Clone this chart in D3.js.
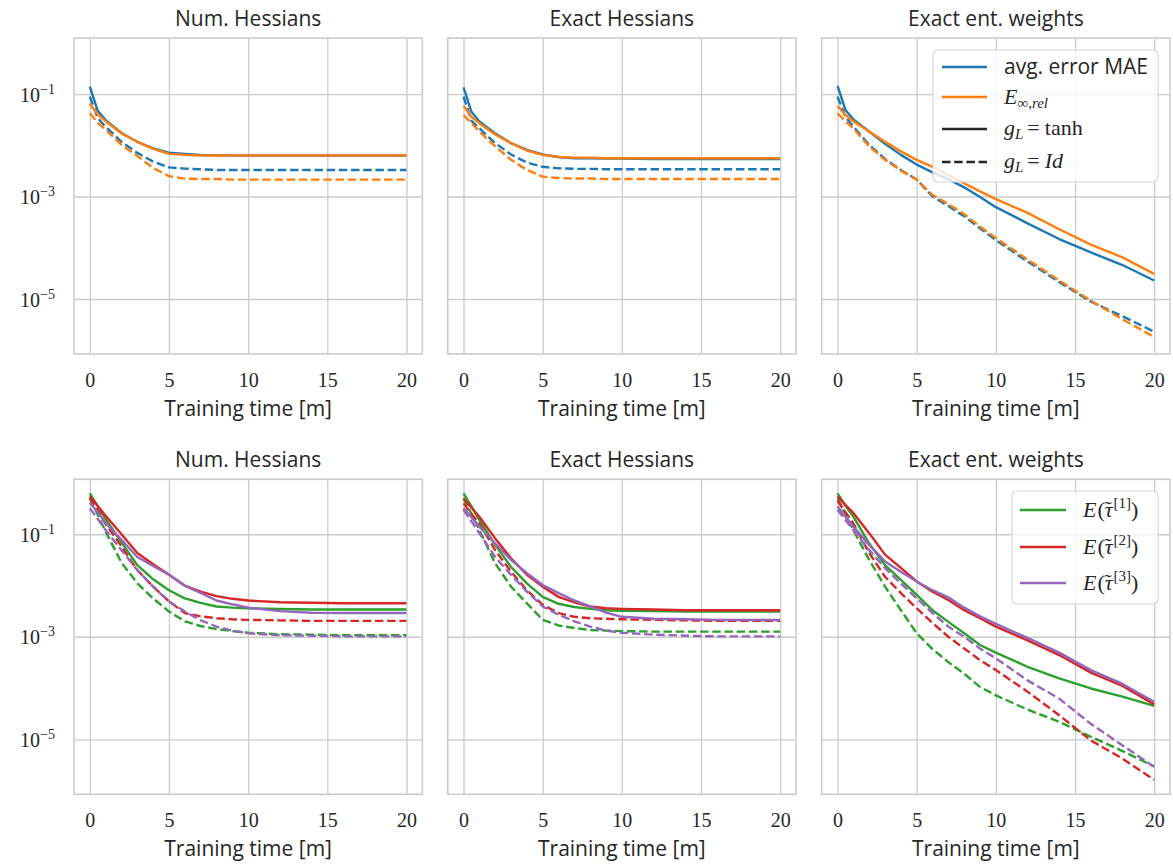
<html>
<meta charset="utf-8" />
<script src="https://d3js.org/d3.v7.min.js"></script>
<style>
  body { margin: 0; background: #fff; }
  text { fill: #262626; }
</style>
<body>
<svg width="1173" height="868" id="fig"></svg>
<script>
// sample times [m]
const times = [0, 0.5, 1, 2, 3, 4, 5, 6, 7, 8, 9, 10, 12, 14, 16, 18, 20];
const xTicks = [0, 5, 10, 15, 20];
const yTicks = [1e-1, 1e-3, 1e-5];
const yTickExp = ["\u22121", "\u22123", "\u22125"];
const panelTitles = ["Num. Hessians", "Exact Hessians", "Exact ent. weights"];
const xLabel = "Training time [m]";

// top row: avg. error MAE / E_inf,rel, tanh (solid) and Id (dashed)
const numMaeTanh = [1.4e-1, 4.7e-2, 3.1e-2, 1.74e-2, 1.17e-2, 8.7e-3, 7.2e-3, 6.8e-3, 6.5e-3, 6.4e-3, 6.3e-3, 6.3e-3, 6.3e-3, 6.3e-3, 6.3e-3, 6.3e-3, 6.3e-3];
const numLinfTanh = [6.5e-2, 4.0e-2, 2.95e-2, 1.7e-2, 1.17e-2, 8.5e-3, 6.8e-3, 6.5e-3, 6.3e-3, 6.3e-3, 6.3e-3, 6.3e-3, 6.3e-3, 6.3e-3, 6.3e-3, 6.3e-3, 6.3e-3];
const numMaeId = [8.9e-2, 3.4e-2, 2.3e-2, 1.17e-2, 7.1e-3, 4.8e-3, 3.7e-3, 3.5e-3, 3.4e-3, 3.3e-3, 3.3e-3, 3.3e-3, 3.3e-3, 3.3e-3, 3.3e-3, 3.3e-3, 3.3e-3];
const numLinfId = [4.2e-2, 2.75e-2, 2.0e-2, 1.02e-2, 6.2e-3, 3.6e-3, 2.5e-3, 2.24e-3, 2.19e-3, 2.19e-3, 2.14e-3, 2.14e-3, 2.14e-3, 2.14e-3, 2.14e-3, 2.14e-3, 2.14e-3];

const exMaeTanh = [1.35e-1, 4.5e-2, 2.9e-2, 1.7e-2, 1.1e-2, 8.1e-3, 6.6e-3, 5.9e-3, 5.6e-3, 5.6e-3, 5.5e-3, 5.5e-3, 5.4e-3, 5.4e-3, 5.4e-3, 5.4e-3, 5.4e-3];
const exLinfTanh = [5.9e-2, 3.6e-2, 2.7e-2, 1.62e-2, 1.1e-2, 7.9e-3, 6.5e-3, 5.9e-3, 5.75e-3, 5.75e-3, 5.6e-3, 5.6e-3, 5.6e-3, 5.6e-3, 5.6e-3, 5.6e-3, 5.6e-3];
const exMaeId = [8.9e-2, 3.0e-2, 2.14e-2, 1.1e-2, 6.6e-3, 4.6e-3, 3.8e-3, 3.55e-3, 3.47e-3, 3.47e-3, 3.4e-3, 3.4e-3, 3.4e-3, 3.4e-3, 3.4e-3, 3.4e-3, 3.4e-3];
const exLinfId = [3.9e-2, 2.7e-2, 1.86e-2, 9.5e-3, 5.2e-3, 3.3e-3, 2.45e-3, 2.3e-3, 2.24e-3, 2.24e-3, 2.19e-3, 2.19e-3, 2.19e-3, 2.19e-3, 2.19e-3, 2.19e-3, 2.19e-3];

const entMaeTanh = [1.45e-1, 4.9e-2, 3.2e-2, 1.86e-2, 1.07e-2, 6.5e-3, 4.2e-3, 2.95e-3, 2.19e-3, 1.51e-3, 9.8e-4, 6.2e-4, 3.0e-4, 1.48e-4, 8.1e-5, 4.6e-5, 2.3e-5];
const entLinfTanh = [5.9e-2, 3.9e-2, 2.95e-2, 1.86e-2, 1.17e-2, 7.6e-3, 5.2e-3, 3.8e-3, 2.63e-3, 1.82e-3, 1.26e-3, 8.9e-4, 4.8e-4, 2.3e-4, 1.15e-4, 6.5e-5, 3.1e-5];
const entMaeId = [8.9e-2, 3.6e-2, 2.3e-2, 1.02e-2, 5.4e-3, 3.3e-3, 2.14e-3, 1.0e-3, 6.5e-4, 4.1e-4, 2.4e-4, 1.41e-4, 5.4e-5, 2.14e-5, 8.9e-6, 4.6e-6, 2.3e-6];
const entLinfId = [4.2e-2, 2.95e-2, 2.14e-2, 9.5e-3, 5.2e-3, 3.2e-3, 2.14e-3, 1.07e-3, 7.1e-4, 4.5e-4, 2.6e-4, 1.55e-4, 5.9e-5, 2.3e-5, 9.3e-6, 4.0e-6, 1.82e-6];

// bottom row: E(tau[1..3]), tanh (solid) and Id (dashed)
const numTau1Tanh = [6.3e-1, 3.5e-1, 2.0e-1, 6.9e-2, 2.5e-2, 1.32e-2, 8.1e-3, 5.6e-3, 4.6e-3, 3.9e-3, 3.7e-3, 3.6e-3, 3.47e-3, 3.4e-3, 3.4e-3, 3.4e-3, 3.4e-3];
const numTau2Tanh = [5.5e-1, 3.55e-1, 2.3e-1, 1.0e-1, 4.3e-2, 2.6e-2, 1.62e-2, 1.0e-2, 7.6e-3, 6.2e-3, 5.5e-3, 5.1e-3, 4.7e-3, 4.6e-3, 4.5e-3, 4.5e-3, 4.5e-3];
const numTau3Tanh = [4.1e-1, 2.7e-1, 1.66e-1, 7.8e-2, 3.6e-2, 2.4e-2, 1.62e-2, 9.8e-3, 7.2e-3, 5.1e-3, 4.3e-3, 3.7e-3, 3.16e-3, 2.95e-3, 2.9e-3, 2.9e-3, 2.9e-3];
const numTau1Id = [5.0e-1, 2.4e-1, 1.12e-1, 2.8e-2, 1.1e-2, 5.6e-3, 3.1e-3, 2.0e-3, 1.62e-3, 1.41e-3, 1.29e-3, 1.2e-3, 1.12e-3, 1.1e-3, 1.07e-3, 1.07e-3, 1.07e-3];
const numTau2Id = [5.2e-1, 3.0e-1, 1.58e-1, 5.8e-2, 2.0e-2, 9.5e-3, 4.9e-3, 2.9e-3, 2.5e-3, 2.3e-3, 2.19e-3, 2.14e-3, 2.09e-3, 2.04e-3, 2.04e-3, 2.04e-3, 2.04e-3];
const numTau3Id = [3.2e-1, 2.0e-1, 1.2e-1, 4.9e-2, 2.0e-2, 9.5e-3, 4.9e-3, 3.1e-3, 2.1e-3, 1.58e-3, 1.32e-3, 1.17e-3, 1.07e-3, 1.05e-3, 1.02e-3, 1.02e-3, 1.02e-3];

const exTau1Tanh = [6.3e-1, 3.5e-1, 1.9e-1, 6.2e-2, 2.3e-2, 1.1e-2, 6.0e-3, 4.4e-3, 3.8e-3, 3.5e-3, 3.3e-3, 3.2e-3, 3.16e-3, 3.1e-3, 3.1e-3, 3.1e-3, 3.1e-3];
const exTau2Tanh = [5.0e-1, 3.3e-1, 2.2e-1, 8.3e-2, 3.4e-2, 1.62e-2, 9.5e-3, 6.0e-3, 4.7e-3, 3.9e-3, 3.6e-3, 3.5e-3, 3.4e-3, 3.3e-3, 3.3e-3, 3.3e-3, 3.3e-3];
const exTau3Tanh = [3.2e-1, 2.14e-1, 1.41e-1, 6.6e-2, 3.16e-2, 1.74e-2, 1.02e-2, 7.1e-3, 5.1e-3, 3.9e-3, 2.95e-3, 2.45e-3, 2.24e-3, 2.19e-3, 2.14e-3, 2.14e-3, 2.14e-3];
const exTau1Id = [5.0e-1, 2.5e-1, 1.2e-1, 2.7e-2, 9.5e-3, 4.5e-3, 2.14e-3, 1.66e-3, 1.48e-3, 1.35e-3, 1.32e-3, 1.29e-3, 1.26e-3, 1.26e-3, 1.26e-3, 1.26e-3, 1.26e-3];
const exTau2Id = [4.0e-1, 2.5e-1, 1.62e-1, 4.9e-2, 1.86e-2, 8.1e-3, 4.2e-3, 2.9e-3, 2.45e-3, 2.3e-3, 2.24e-3, 2.19e-3, 2.14e-3, 2.09e-3, 2.04e-3, 2.04e-3, 2.04e-3];
const exTau3Id = [3.0e-1, 1.78e-1, 1.05e-1, 3.6e-2, 1.62e-2, 7.6e-3, 3.9e-3, 2.7e-3, 2.0e-3, 1.58e-3, 1.32e-3, 1.2e-3, 1.1e-3, 1.05e-3, 1.02e-3, 1.02e-3, 1.02e-3];

const entTau1Tanh = [6.3e-1, 3.6e-1, 2.2e-1, 6.6e-2, 2.5e-2, 1.29e-2, 6.6e-3, 3.3e-3, 1.95e-3, 1.17e-3, 6.9e-4, 4.9e-4, 2.6e-4, 1.55e-4, 9.8e-5, 6.8e-5, 4.5e-5];
const entTau2Tanh = [5.5e-1, 3.7e-1, 2.6e-1, 1.05e-1, 4.0e-2, 2.2e-2, 1.2e-2, 7.6e-3, 5.2e-3, 3.3e-3, 2.3e-3, 1.58e-3, 8.5e-4, 4.4e-4, 2.0e-4, 1.1e-4, 4.8e-5];
const entTau3Tanh = [3.5e-1, 2.2e-1, 1.41e-1, 6.2e-2, 2.95e-2, 1.86e-2, 1.2e-2, 8.1e-3, 5.9e-3, 3.7e-3, 2.5e-3, 1.78e-3, 9.5e-4, 4.9e-4, 2.24e-4, 1.2e-4, 5.4e-5];
const entTau1Id = [5.0e-1, 2.5e-1, 1.2e-1, 3.16e-2, 9.5e-3, 3.3e-3, 1.17e-3, 5.75e-4, 3.2e-4, 1.9e-4, 1.05e-4, 7.2e-5, 3.8e-5, 2.2e-5, 1.12e-5, 5.9e-6, 2.95e-6];
const entTau2Id = [4.5e-1, 2.7e-1, 1.62e-1, 4.3e-2, 1.48e-2, 7.1e-3, 3.6e-3, 1.86e-3, 1.0e-3, 5.9e-4, 3.5e-4, 2.24e-4, 8.5e-5, 2.95e-5, 9.5e-6, 4.2e-6, 1.62e-6];
const entTau3Id = [3.0e-1, 1.9e-1, 1.2e-1, 4.9e-2, 2.2e-2, 1.1e-2, 5.6e-3, 2.9e-3, 1.58e-3, 1.0e-3, 5.9e-4, 3.8e-4, 1.41e-4, 6.2e-5, 2.0e-5, 7.6e-6, 2.9e-6];

const blue = "#1f77b4", orange = "#ff7f0e", green = "#2ca02c", red = "#d62728", purple = "#9467bd";

const rows = [
  {
    top: 38, height: 316, yLim: [8.45e-7, 1.24],
    panels: [
      [[numMaeTanh, blue, 0], [numMaeId, blue, 1], [numLinfTanh, orange, 0], [numLinfId, orange, 1]],
      [[exMaeTanh, blue, 0], [exMaeId, blue, 1], [exLinfTanh, orange, 0], [exLinfId, orange, 1]],
      [[entMaeTanh, blue, 0], [entMaeId, blue, 1], [entLinfTanh, orange, 0], [entLinfId, orange, 1]]
    ]
  },
  {
    top: 479.3, height: 315, yLim: [8.45e-7, 1.18],
    panels: [
      [[numTau1Tanh, green, 0], [numTau1Id, green, 1], [numTau2Tanh, red, 0], [numTau2Id, red, 1], [numTau3Tanh, purple, 0], [numTau3Id, purple, 1]],
      [[exTau1Tanh, green, 0], [exTau1Id, green, 1], [exTau2Tanh, red, 0], [exTau2Id, red, 1], [exTau3Tanh, purple, 0], [exTau3Id, purple, 1]],
      [[entTau1Tanh, green, 0], [entTau1Id, green, 1], [entTau2Tanh, red, 0], [entTau2Id, red, 1], [entTau3Tanh, purple, 0], [entTau3Id, purple, 1]]
    ]
  }
];

const lefts = [74, 447.7, 821.7];
const panelW = 348.3;
const sans = "'Open Sans', sans-serif";
const serif = "'Liberation Serif', serif";
const lw = 2.4;
const dash = "8.5,3.7";

const svg = d3.select("#fig");

rows.forEach((row, r) => {
  const y = d3.scaleLog().domain(row.yLim).range([row.height, 0]);
  row.panels.forEach((series, c) => {
    const x = d3.scaleLinear().domain([-1, 21]).range([0, panelW]);
    const g = svg.append("g").attr("transform", `translate(${lefts[c]},${row.top})`);

    // grid
    g.append("g")
      .call(d3.axisBottom(x).tickValues(xTicks).tickSize(row.height).tickFormat(""))
      .call(a => a.select(".domain").remove())
      .selectAll("line").attr("stroke", "#cccccc").attr("stroke-width", 1.3);
    g.append("g")
      .call(d3.axisLeft(y).tickValues(yTicks).tickSize(-panelW).tickFormat(""))
      .call(a => a.select(".domain").remove())
      .selectAll("line").attr("stroke", "#cccccc").attr("stroke-width", 1.3);

    // curves
    const line = d3.line().x((d, i) => x(times[i])).y(d => y(d));
    series.forEach(([vals, color, dashed]) => {
      g.append("path")
        .datum(vals)
        .attr("d", line)
        .attr("fill", "none")
        .attr("stroke", color)
        .attr("stroke-width", lw)
        .attr("stroke-linejoin", "round")
        .attr("stroke-dasharray", dashed ? dash : null);
    });

    // frame
    g.append("rect")
      .attr("width", panelW).attr("height", row.height)
      .attr("fill", "none").attr("stroke", "#cccccc").attr("stroke-width", 1.6);

    // x tick labels
    const xa = g.append("g")
      .attr("transform", `translate(0,${row.height})`)
      .call(d3.axisBottom(x).tickValues(xTicks).tickSize(0).tickPadding(0).tickFormat(d3.format("d")));
    xa.select(".domain").remove();
    xa.selectAll("text")
      .attr("dy", null).attr("y", 33)
      .attr("font-family", serif).attr("font-size", 20).attr("fill", "#262626");

    // y tick labels (first column only)
    if (c === 0) {
      const ya = g.append("g")
        .call(d3.axisLeft(y).tickValues(yTicks).tickSize(0).tickPadding(19).tickFormat(""));
      ya.select(".domain").remove();
      ya.selectAll("text").each(function (d, i) {
        const t = d3.select(this)
          .attr("dy", null).attr("y", 7)
          .attr("font-family", serif).attr("font-size", 20).attr("fill", "#262626");
        t.append("tspan").text("10");
        t.append("tspan").attr("font-size", 14).attr("dy", -8).text(yTickExp[i]);
      });
    }

    // title and x label
    g.append("text")
      .attr("x", panelW / 2).attr("y", -12)
      .attr("text-anchor", "middle")
      .attr("font-family", sans).attr("font-size", 21)
      .text(panelTitles[c]);
    g.append("text")
      .attr("x", panelW / 2).attr("y", row.height + 62)
      .attr("text-anchor", "middle")
      .attr("font-family", sans).attr("font-size", 21)
      .text(xLabel);
  });
});

// legend, top row
const lg1 = svg.append("g");
lg1.append("rect")
  .attr("x", 933).attr("y", 50).attr("width", 225).attr("height", 132).attr("rx", 5)
  .attr("fill", "#ffffff").attr("fill-opacity", 0.8).attr("stroke", "#d6d6d6").attr("stroke-width", 1.2);
const leg1 = [
  { color: blue, dashed: 0, y: 67 },
  { color: orange, dashed: 0, y: 97 },
  { color: "#262626", dashed: 0, y: 129 },
  { color: "#262626", dashed: 1, y: 162 }
];
leg1.forEach(d => {
  lg1.append("line")
    .attr("x1", 942).attr("x2", 987).attr("y1", d.y).attr("y2", d.y)
    .attr("stroke", d.color).attr("stroke-width", lw)
    .attr("stroke-dasharray", d.dashed ? dash : null);
});
lg1.append("text").attr("x", 1004).attr("y", 74)
  .attr("font-family", sans).attr("font-size", 21).text("avg. error MAE");
const t2 = lg1.append("text").attr("x", 1004).attr("y", 104)
  .attr("font-family", serif).attr("font-size", 22);
t2.append("tspan").attr("font-style", "italic").text("E");
t2.append("tspan").attr("font-size", 15).attr("dy", 4).attr("font-style", "italic").text("\u221E,rel");
const t3 = lg1.append("text").attr("x", 1004).attr("y", 135)
  .attr("font-family", serif).attr("font-size", 22);
t3.append("tspan").attr("font-style", "italic").text("g");
t3.append("tspan").attr("font-size", 15).attr("dy", 4).attr("font-style", "italic").text("L");
t3.append("tspan").attr("dy", -4).attr("dx", 4).text("=");
t3.append("tspan").attr("dx", 5).text("tanh");
const t4 = lg1.append("text").attr("x", 1004).attr("y", 168)
  .attr("font-family", serif).attr("font-size", 22);
t4.append("tspan").attr("font-style", "italic").text("g");
t4.append("tspan").attr("font-size", 15).attr("dy", 4).attr("font-style", "italic").text("L");
t4.append("tspan").attr("dy", -4).attr("dx", 4).text("=");
t4.append("tspan").attr("dx", 5).attr("font-style", "italic").text("Id");

// legend, bottom row
const lg2 = svg.append("g");
lg2.append("rect")
  .attr("x", 1012).attr("y", 491).attr("width", 146).attr("height", 113).attr("rx", 5)
  .attr("fill", "#ffffff").attr("fill-opacity", 0.8).attr("stroke", "#d6d6d6").attr("stroke-width", 1.2);
const leg2 = [
  { color: green, label: "[1]", y: 510 },
  { color: red, label: "[2]", y: 547 },
  { color: purple, label: "[3]", y: 583 }
];
leg2.forEach(d => {
  lg2.append("line")
    .attr("x1", 1020).attr("x2", 1066).attr("y1", d.y).attr("y2", d.y)
    .attr("stroke", d.color).attr("stroke-width", lw);
  const t = lg2.append("text").attr("x", 1083).attr("y", d.y + 7)
    .attr("font-family", serif).attr("font-size", 22);
  t.append("tspan").attr("font-style", "italic").text("E");
  t.append("tspan").attr("dx", 1).text("(");
  t.append("tspan").attr("font-style", "italic").text("\u03C4");
  t.append("tspan").attr("dx", -8.5).attr("dy", -1).text("\u02DC");
  t.append("tspan").attr("font-size", 15).attr("dx", 2).attr("dy", -8).text(d.label);
  t.append("tspan").attr("dy", 9).text(")");
});
</script>
</body>
</html>
